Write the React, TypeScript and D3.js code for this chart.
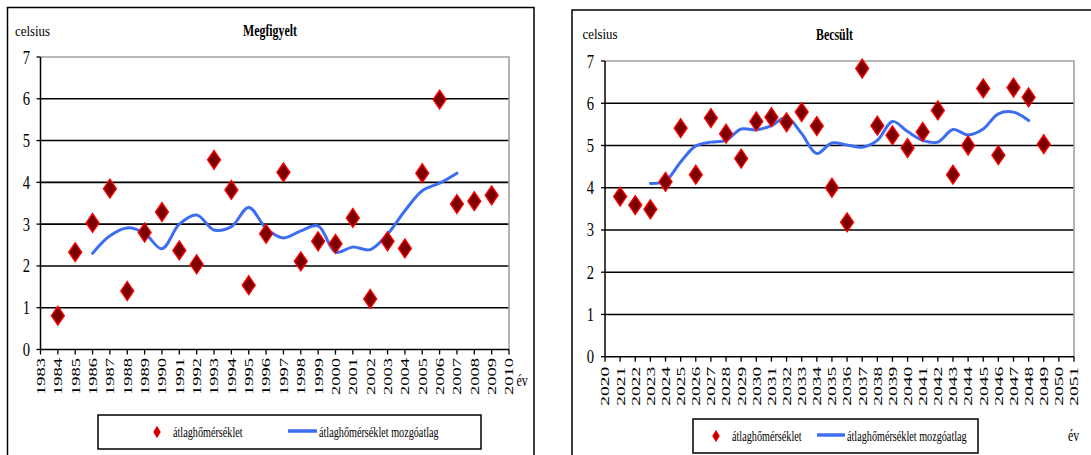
import React from 'react';
import * as d3 from 'd3';

// ---------- DATA ----------
const obsYears = [1984, 1985, 1986, 1987, 1988, 1989, 1990, 1991, 1992, 1993, 1994, 1995, 1996, 1997, 1998, 1999, 2000, 2001, 2002, 2003, 2004, 2005, 2006, 2007, 2008, 2009];
const obsTemps = [0.81, 2.33, 3.03, 3.85, 1.4, 2.8, 3.29, 2.37, 2.04, 4.54, 3.82, 1.54, 2.77, 4.24, 2.11, 2.59, 2.53, 3.15, 1.21, 2.59, 2.42, 4.22, 5.98, 3.48, 3.55, 3.69];
const obsMaYears = [1986, 1987, 1988, 1989, 1990, 1991, 1992, 1993, 1994, 1995, 1996, 1997, 1998, 1999, 2000, 2001, 2002, 2003, 2004, 2005, 2006, 2007];
const obsMa = [2.3, 2.72, 2.91, 2.78, 2.41, 3.0, 3.22, 2.86, 2.94, 3.4, 2.9, 2.67, 2.84, 2.96, 2.33, 2.45, 2.39, 2.76, 3.32, 3.8, 3.98, 4.22];
const obsTicks = [1983, 1984, 1985, 1986, 1987, 1988, 1989, 1990, 1991, 1992, 1993, 1994, 1995, 1996, 1997, 1998, 1999, 2000, 2001, 2002, 2003, 2004, 2005, 2006, 2007, 2008, 2009, 2010];

const estYears = [2021, 2022, 2023, 2024, 2025, 2026, 2027, 2028, 2029, 2030, 2031, 2032, 2033, 2034, 2035, 2036, 2037, 2038, 2039, 2040, 2041, 2042, 2043, 2044, 2045, 2046, 2047, 2048, 2049];
const estTemps = [3.79, 3.59, 3.49, 4.14, 5.41, 4.31, 5.65, 5.28, 4.69, 5.57, 5.67, 5.55, 5.79, 5.46, 4.0, 3.18, 6.82, 5.47, 5.24, 4.94, 5.32, 5.83, 4.31, 5.0, 6.35, 4.77, 6.37, 6.14, 5.03];
const estMaYears = [2023, 2024, 2025, 2026, 2027, 2028, 2029, 2030, 2031, 2032, 2033, 2034, 2035, 2036, 2037, 2038, 2039, 2040, 2041, 2042, 2043, 2044, 2045, 2046, 2047, 2048];
const estMa = [4.1, 4.16, 4.61, 4.99, 5.08, 5.12, 5.39, 5.37, 5.47, 5.67, 5.28, 4.81, 5.06, 5.01, 4.96, 5.12, 5.57, 5.33, 5.12, 5.08, 5.38, 5.25, 5.39, 5.75, 5.79, 5.59];
const estTicks = [2020, 2021, 2022, 2023, 2024, 2025, 2026, 2027, 2028, 2029, 2030, 2031, 2032, 2033, 2034, 2035, 2036, 2037, 2038, 2039, 2040, 2041, 2042, 2043, 2044, 2045, 2046, 2047, 2048, 2049, 2050, 2051];

const yTicks = [0, 1, 2, 3, 4, 5, 6, 7];
const yLabel = 'celsius';
const xLabel = 'év';
const seriesName = 'átlaghőmérséklet';
const maName = 'átlaghőmérséklet mozgóatlag';

// ---------- STYLE ----------
const FONT = '"Liberation Serif", "Times New Roman", serif';
const MARK_FILL = '#7d0000';
const MARK_STROKE = '#ff0000';
const LINE = '#3d6ef2';

const diamond = (w: number, h: number) => `M0,${-h / 2}L${w / 2},0L0,${h / 2}L${-w / 2},0Z`;

type PanelProps = {
  title: string;
  titleX: number;
  titleY: number;
  celsiusX: number;
  celsiusY: number;
  box: [number, number, number, number];
  plot: { x0: number; x1: number; yTop: number; yBot: number };
  domain: [number, number];
  ticks: number[];
  years: number[];
  temps: number[];
  maYears: number[];
  ma: number[];
  yLabelRight: number;
  xLabelGap: number;
  xLabelSize: number;
  evX: number;
  evY: number;
  legend: { x: number; y: number; w: number; h: number; dx: number; tx: number; l0: number; l1: number; t2: number };
};

function Panel(p: PanelProps) {
  const x = d3.scaleLinear().domain(p.domain).range([p.plot.x0, p.plot.x1]);
  const y = d3.scaleLinear().domain([0, 7]).range([p.plot.yBot, p.plot.yTop]);
  const line = d3
    .line<number>()
    .x((_, i) => x(p.maYears[i]))
    .y((d) => y(d))
    .curve(d3.curveCatmullRom.alpha(0.5));
  const lg = p.legend;
  const ly = lg.y + lg.h / 2;
  return (
    <g fontFamily={FONT} fill="#000">
      <rect x={p.box[0]} y={p.box[1]} width={p.box[2]} height={p.box[3]} fill="#fff" stroke="#000" strokeWidth={1.5} />
      <text transform={`translate(${p.celsiusX},${p.celsiusY}) scale(0.86,1)`} fontSize={15}>{yLabel}</text>
      <text transform={`translate(${p.titleX},${p.titleY}) scale(0.74,1)`} fontSize={16} fontWeight="bold" textAnchor="middle">{p.title}</text>
      {/* gridlines */}
      {yTicks.filter((t) => t > 0 && t < 7).map((t) => (
        <line key={t} x1={p.plot.x0} x2={p.plot.x1} y1={y(t)} y2={y(t)} stroke="#000" strokeWidth={1.6} />
      ))}
      {/* plot border top/right (grey) */}
      <path d={`M${p.plot.x0},${y(7)}H${p.plot.x1}V${y(0)}`} fill="none" stroke="#a0a0a0" strokeWidth={1.6} />
      {/* axes */}
      <line x1={p.plot.x0} x2={p.plot.x0} y1={y(7)} y2={y(0)} stroke="#000" strokeWidth={1.5} />
      <line x1={p.plot.x0} x2={p.plot.x1} y1={y(0)} y2={y(0)} stroke="#000" strokeWidth={1.5} />
      {yTicks.map((t) => (
        <g key={t}>
          <line x1={p.plot.x0 - 4} x2={p.plot.x0} y1={y(t)} y2={y(t)} stroke="#000" strokeWidth={1.3} />
          <text transform={`translate(${p.yLabelRight},${y(t) + 6.5}) scale(0.75,1)`} fontSize={19.5} textAnchor="end">{t}</text>
        </g>
      ))}
      {p.ticks.map((t) => (
        <g key={t}>
          <line x1={x(t)} x2={x(t)} y1={y(0)} y2={y(0) + 5} stroke="#000" strokeWidth={1.3} />
          <text
            transform={`translate(${x(t)},${y(0) + p.xLabelGap}) rotate(-90) scale(1,0.68)`}
            fontSize={p.xLabelSize}
            textAnchor="end"
            dominantBaseline="central"
          >{t}</text>
        </g>
      ))}
      <text transform={`translate(${p.evX},${p.evY}) scale(0.7,1)`} fontSize={17}>{xLabel}</text>
      {/* moving average */}
      <path d={line(p.ma) || ''} fill="none" stroke={LINE} strokeWidth={3} strokeLinecap="round" />
      {/* points */}
      {p.temps.map((v, i) => (
        <path key={i} transform={`translate(${x(p.years[i])},${y(v)})`} d={diamond(13, 19)} fill={MARK_FILL} stroke={MARK_STROKE} strokeWidth={1.3} />
      ))}
      {/* legend */}
      <rect x={lg.x} y={lg.y} width={lg.w} height={lg.h} fill="#fff" stroke="#000" strokeWidth={1.5} />
      <path transform={`translate(${lg.dx},${ly})`} d={diamond(6.5, 11)} fill="#c00000" stroke={MARK_STROKE} strokeWidth={1} />
      <text transform={`translate(${lg.tx},${ly + 5}) scale(0.68,1)`} fontSize={15}>{seriesName}</text>
      <line x1={lg.l0} x2={lg.l1} y1={ly - 1} y2={ly - 1} stroke={LINE} strokeWidth={3.5} />
      <text transform={`translate(${lg.t2},${ly + 5}) scale(0.68,1)`} fontSize={15}>{maName}</text>
    </g>
  );
}

export default function App() {
  return (
    <svg width={1091} height={455} style={{ position: 'absolute', left: 0, top: 0, background: '#fff' }}>
      <rect x={0} y={0} width={1091} height={455} fill="#fff" />
      <Panel
        title="Megfigyelt"
        titleX={270}
        titleY={36}
        celsiusX={15}
        celsiusY={36}
        box={[7.5, 7.5, 526.5, 460]}
        plot={{ x0: 40.5, x1: 509, yTop: 57, yBot: 349.5 }}
        domain={[1983, 2010]}
        ticks={obsTicks}
        years={obsYears}
        temps={obsTemps}
        maYears={obsMaYears}
        ma={obsMa}
        yLabelRight={30}
        xLabelGap={8.5}
        xLabelSize={18.5}
        evX={516.5}
        evY={386}
        legend={{ x: 98, y: 415, w: 383, h: 34, dx: 157, tx: 173, l0: 288, l1: 317, t2: 319 }}
      />
      <Panel
        title="Becsült"
        titleX={834.5}
        titleY={40}
        celsiusX={582.5}
        celsiusY={39}
        box={[572, 10, 600, 460]}
        plot={{ x0: 605, x1: 1074, yTop: 61, yBot: 356.7 }}
        domain={[2020, 2051]}
        ticks={estTicks}
        years={estYears}
        temps={estTemps}
        maYears={estMaYears}
        ma={estMa}
        yLabelRight={594}
        xLabelGap={10}
        xLabelSize={19.5}
        evX={1068}
        evY={441}
        legend={{ x: 693, y: 419, w: 285, h: 34, dx: 716, tx: 732, l0: 817, l1: 845, t2: 847 }}
      />
    </svg>
  );
}
